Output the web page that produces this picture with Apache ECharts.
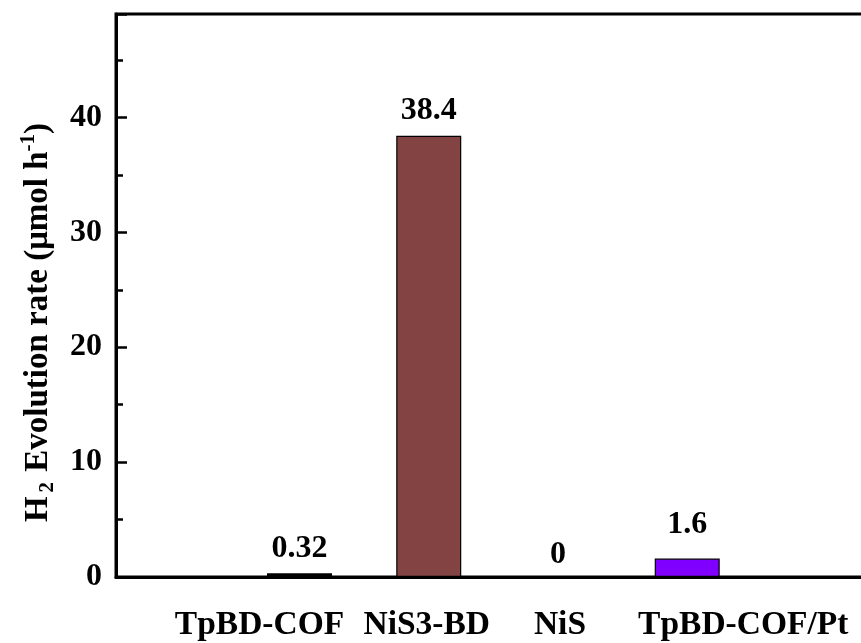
<!DOCTYPE html>
<html>
<head>
<meta charset="utf-8">
<script src="https://cdn.jsdelivr.net/npm/echarts@6/dist/echarts.min.js"></script>
<style>
html,body{margin:0;padding:0;background:#fff;}
#chart{width:861px;height:643px;}
</style>
</head>
<body>
<div id="chart"></div>
<script>
// ---- data ----
const categories = ['TpBD-COF', 'NiS3-BD', 'NiS', 'TpBD-COF/Pt'];
const rates = [0.32, 38.4, 0, 1.6];
const rateLabels = ['0.32', '38.4', '0', '1.6'];
const yTicks = [0, 10, 20, 30, 40];

// ---- styles ----
const barColors = ['#000000', '#844343', '#ffffff', '#7f00ff'];
const labelShift = [-40, -2, 2, 56];
const labelDistance = [9, 9, 6, 18];
const FONT = '"Liberation Serif", "Times New Roman", serif';

const catPos = categories.map((c, i) => i + 1);
const barData = rates.map((v, i) => ({
  value: [catPos[i], v],
  itemStyle: { color: barColors[i] },
  label: { distance: labelDistance[i] }
}));

const rich = {};
categories.forEach((c, i) => {
  const s = labelShift[i];
  rich['c' + i] = {
    fontFamily: FONT, fontWeight: 'bold', fontSize: 33.5, color: '#000',
    padding: s < 0 ? [0, -2 * s, 0, 0] : [0, 0, 0, 2 * s]
  };
});

const chart = echarts.init(document.getElementById('chart'));
chart.setOption({
  animation: false,
  backgroundColor: '#fff',
  grid: {
    left: 116, top: 14, bottom: 66, right: -33,
    show: true, borderColor: '#000', borderWidth: 3,
    outerBoundsMode: 'none'
  },
  xAxis: {
    type: 'value', min: -0.42, max: 5.6,
    axisLine: { show: true, onZero: false, lineStyle: { color: '#000', width: 3 } },
    axisTick: { show: false },
    splitLine: { show: false },
    axisLabel: {
      customValues: catPos,
      margin: 31,
      formatter: v => {
        const i = catPos.indexOf(v);
        return i < 0 ? '' : '{c' + i + '|' + categories[i] + '}';
      },
      rich: rich
    }
  },
  yAxis: [
    {
      type: 'value', min: 0, max: 49, interval: 10, position: 'left',
      axisLine: { show: true, onZero: false, lineStyle: { color: '#000', width: 3 } },
      axisTick: { show: true, inside: true, length: 11, lineStyle: { color: '#000', width: 2.5 } },
      splitLine: { show: false },
      axisLabel: {
        margin: 14, color: '#000', fontFamily: FONT, fontWeight: 'bold', fontSize: 32,
        formatter: v => (yTicks.indexOf(v) >= 0 ? String(v) : '')
      },
      name: '{t|H}{sub|2}{t| Evolution rate (μmol h}{sup|-1}{t|)}',
      nameLocation: 'middle',
      nameRotate: 90,
      nameGap: 58,
      nameTextStyle: {
        fontFamily: FONT, fontWeight: 'bold', fontSize: 33, color: '#000',
        padding: [0, 54, 0, 0],
        rich: {
          t: { fontFamily: FONT, fontWeight: 'bold', fontSize: 33, color: '#000', lineHeight: 40 },
          sub: { fontFamily: FONT, fontWeight: 'bold', fontSize: 21, color: '#000', verticalAlign: 'bottom', lineHeight: 40, padding: [0, 2, 0, 4] },
          sup: { fontFamily: FONT, fontWeight: 'bold', fontSize: 21, color: '#000', verticalAlign: 'top', lineHeight: 40 }
        }
      }
    },
    {
      type: 'value', min: 0, max: 49, interval: 5, position: 'left',
      axisLine: { show: false, onZero: false },
      axisTick: { show: true, inside: true, length: 7, lineStyle: { color: '#000', width: 2.5 } },
      splitLine: { show: false },
      axisLabel: { show: false }
    }
  ],
  series: [{
    type: 'bar',
    yAxisIndex: 0,
    barWidth: 65,
    data: barData,
    itemStyle: { borderColor: '#000', borderWidth: 1.2 },
    label: {
      show: true, position: 'top', distance: 9,
      fontFamily: FONT, fontWeight: 'bold', fontSize: 32, color: '#000',
      formatter: p => rateLabels[p.dataIndex]
    }
  }]
});
</script>
</body>
</html>
